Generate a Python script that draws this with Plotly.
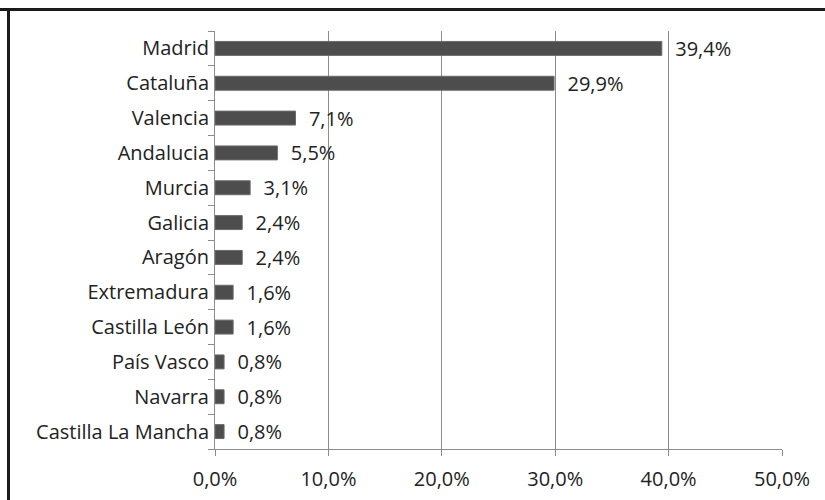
import plotly.graph_objects as go

regions = ["Madrid", "Cataluña", "Valencia", "Andalucia", "Murcia", "Galicia",
           "Aragón", "Extremadura", "Castilla León", "País Vasco", "Navarra",
           "Castilla La Mancha"]
shares = [39.4, 29.9, 7.1, 5.5, 3.1, 2.4, 2.4, 1.6, 1.6, 0.8, 0.8, 0.8]
labels = ["\u00a0\u00a0" + f"{v:.1f}%".replace(".", ",") for v in shares]
x_ticks = [0, 10, 20, 30, 40, 50]
x_tick_labels = [f"{v:.1f}%".replace(".", ",") for v in x_ticks]

font_family = "'Open Sans', Lato, sans-serif"
FS = 20

fig = go.Figure(go.Bar(
    x=shares, y=regions, orientation="h",
    width=0.4,
    marker=dict(color="#4d4d4d", line=dict(color="#6a6a6a", width=1)),
    text=labels, textposition="outside", cliponaxis=False,
    constraintext="none",
    textfont=dict(size=FS, color="#222222", family=font_family),
))

fig.update_layout(
    width=825, height=500,
    margin=dict(l=215, r=43, t=31, b=51, autoexpand=False),
    paper_bgcolor="white", plot_bgcolor="white",
    font=dict(family=font_family, size=FS, color="#222222"),
    showlegend=False,
    bargap=0.6,
    shapes=[
        dict(type="line", xref="paper", yref="paper",
             x0=-215/567, x1=(825-215)/567, y0=(500-51-9.5)/418, y1=(500-51-9.5)/418,
             line=dict(color="#1a1a1a", width=3)),
        dict(type="line", xref="paper", yref="paper",
             x0=-(215-8.5)/567, x1=-(215-8.5)/567, y0=-51/418, y1=(500-51-9.5)/418,
             line=dict(color="#1a1a1a", width=3)),
    ],
)
fig.update_xaxes(
    range=[0, 50], tickvals=x_ticks, ticktext=x_tick_labels,
    showgrid=True, gridcolor="#8c8c8c", gridwidth=1,
    showline=True, linecolor="#8c8c8c", linewidth=1,
    ticks="outside", ticklen=6, tickcolor="#8c8c8c",
    zeroline=False, tickfont=dict(size=FS), ticklabelstandoff=6,
    automargin=False,
)
fig.update_yaxes(
    categoryorder="array", categoryarray=regions[::-1],
    showline=True, linecolor="#8c8c8c", linewidth=1,
    ticks="outside", ticklen=6, tickcolor="#8c8c8c", tickson="boundaries",
    showgrid=False, tickfont=dict(size=FS), ticklabelstandoff=1,
    automargin=False,
)

fig.write_html("out.html")
